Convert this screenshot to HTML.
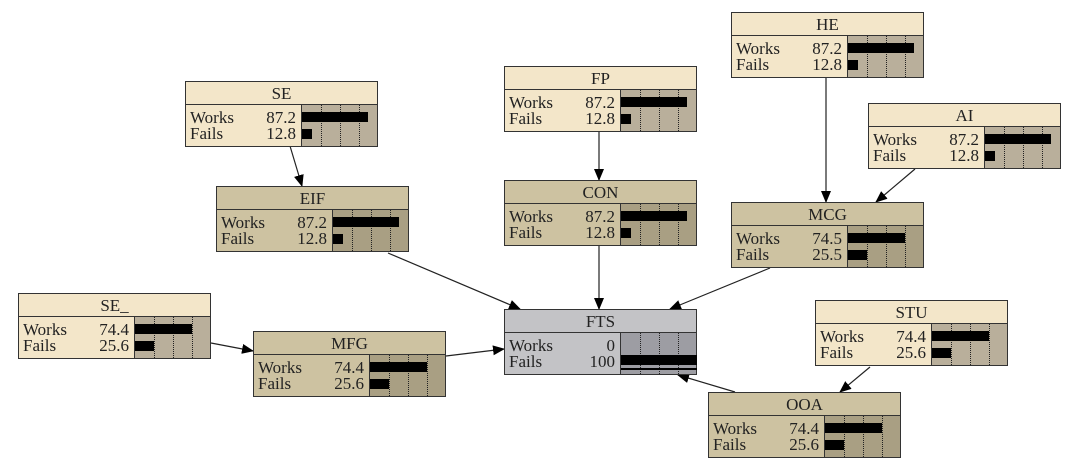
<!DOCTYPE html>
<html><head><meta charset="utf-8"><style>
body{margin:0;width:1088px;height:470px;background:#fff;position:relative;overflow:hidden;font-family:"Liberation Serif",serif;color:#222}
.n{position:absolute;width:191px;height:64px;border:1px solid #333;box-sizing:content-box}
.t{height:22px;line-height:23px;text-align:center;font-size:17px;border-bottom:1px solid #333}
.b{position:relative;height:41px;font-size:17px}
.r{position:absolute;left:4px;width:106px;height:17px;line-height:17px}
.r span{position:absolute;right:0}
.ba{position:absolute;left:115px;top:0;width:76px;height:41px;border-left:1px solid #333;box-sizing:border-box}
.d{position:absolute;top:0;height:41px;border-left:1px dotted #222}
.bar{position:absolute;left:0;height:10px;background:#000}
.be{background:#f3e6c9}.be .ba{background:#b9af9b}
.tn{background:#cdc2a1}.tn .ba{background:#a99f83}
.gr{background:#c3c3c6}.gr .ba{background:#9d9da3}
</style></head><body>
<svg width="1088" height="470" style="position:absolute;left:0;top:0">
<defs><marker id="a" markerWidth="12" markerHeight="10" refX="11" refY="5" orient="auto" markerUnits="userSpaceOnUse"><path d="M0,0 L12,5 L0,10 z" fill="#000"/></marker></defs>
<g stroke="#222" stroke-width="1.2" fill="none" marker-end="url(#a)">
<line x1="290" y1="146" x2="302" y2="186"/>
<line x1="599" y1="131" x2="599" y2="180"/>
<line x1="826" y1="78" x2="826" y2="202"/>
<line x1="915" y1="169" x2="876" y2="202"/>
<line x1="388" y1="253" x2="520" y2="309"/>
<line x1="599" y1="246" x2="599" y2="309"/>
<line x1="770" y1="268" x2="670" y2="309"/>
<line x1="211" y1="343" x2="253" y2="351"/>
<line x1="446" y1="356" x2="504" y2="349"/>
<line x1="870" y1="367" x2="840" y2="392"/>
<line x1="735" y1="392" x2="678" y2="375"/>
</g></svg>

<div class="n be" style="left:731px;top:12px"><div class="t">HE</div><div class="b"><div class="r" style="top:4px">Works<span>87.2</span></div><div class="r" style="top:20px">Fails<span>12.8</span></div><div class="ba"><div class="d" style="left:19px"></div><div class="d" style="left:38px"></div><div class="d" style="left:57px"></div><div class="bar" style="top:7px;width:66px"></div><div class="bar" style="top:24px;width:10px"></div></div></div></div>

<div class="n be" style="left:504px;top:66px"><div class="t">FP</div><div class="b"><div class="r" style="top:4px">Works<span>87.2</span></div><div class="r" style="top:20px">Fails<span>12.8</span></div><div class="ba"><div class="d" style="left:19px"></div><div class="d" style="left:38px"></div><div class="d" style="left:57px"></div><div class="bar" style="top:7px;width:66px"></div><div class="bar" style="top:24px;width:10px"></div></div></div></div>

<div class="n be" style="left:185px;top:81px"><div class="t">SE</div><div class="b"><div class="r" style="top:4px">Works<span>87.2</span></div><div class="r" style="top:20px">Fails<span>12.8</span></div><div class="ba"><div class="d" style="left:19px"></div><div class="d" style="left:38px"></div><div class="d" style="left:57px"></div><div class="bar" style="top:7px;width:66px"></div><div class="bar" style="top:24px;width:10px"></div></div></div></div>

<div class="n be" style="left:868px;top:103px"><div class="t">AI</div><div class="b"><div class="r" style="top:4px">Works<span>87.2</span></div><div class="r" style="top:20px">Fails<span>12.8</span></div><div class="ba"><div class="d" style="left:19px"></div><div class="d" style="left:38px"></div><div class="d" style="left:57px"></div><div class="bar" style="top:7px;width:66px"></div><div class="bar" style="top:24px;width:10px"></div></div></div></div>

<div class="n tn" style="left:216px;top:186px"><div class="t">EIF</div><div class="b"><div class="r" style="top:4px">Works<span>87.2</span></div><div class="r" style="top:20px">Fails<span>12.8</span></div><div class="ba"><div class="d" style="left:19px"></div><div class="d" style="left:38px"></div><div class="d" style="left:57px"></div><div class="bar" style="top:7px;width:66px"></div><div class="bar" style="top:24px;width:10px"></div></div></div></div>

<div class="n tn" style="left:504px;top:180px"><div class="t">CON</div><div class="b"><div class="r" style="top:4px">Works<span>87.2</span></div><div class="r" style="top:20px">Fails<span>12.8</span></div><div class="ba"><div class="d" style="left:19px"></div><div class="d" style="left:38px"></div><div class="d" style="left:57px"></div><div class="bar" style="top:7px;width:66px"></div><div class="bar" style="top:24px;width:10px"></div></div></div></div>

<div class="n tn" style="left:731px;top:202px"><div class="t">MCG</div><div class="b"><div class="r" style="top:4px">Works<span>74.5</span></div><div class="r" style="top:20px">Fails<span>25.5</span></div><div class="ba"><div class="d" style="left:19px"></div><div class="d" style="left:38px"></div><div class="d" style="left:57px"></div><div class="bar" style="top:7px;width:57px"></div><div class="bar" style="top:24px;width:19px"></div></div></div></div>

<div class="n be" style="left:18px;top:293px"><div class="t">SE_</div><div class="b"><div class="r" style="top:4px">Works<span>74.4</span></div><div class="r" style="top:20px">Fails<span>25.6</span></div><div class="ba"><div class="d" style="left:19px"></div><div class="d" style="left:38px"></div><div class="d" style="left:57px"></div><div class="bar" style="top:7px;width:57px"></div><div class="bar" style="top:24px;width:19px"></div></div></div></div>

<div class="n gr" style="left:504px;top:309px"><div class="t">FTS</div><div class="b"><div class="r" style="top:4px">Works<span>0</span></div><div class="r" style="top:20px">Fails<span>100</span></div><div class="ba"><div class="d" style="left:19px"></div><div class="d" style="left:38px"></div><div class="d" style="left:57px"></div><div class="bar" style="top:22px;width:76px;height:10px"></div><div class="bar" style="top:35px;width:76px;height:2px"></div></div></div></div>

<div class="n tn" style="left:253px;top:331px"><div class="t">MFG</div><div class="b"><div class="r" style="top:4px">Works<span>74.4</span></div><div class="r" style="top:20px">Fails<span>25.6</span></div><div class="ba"><div class="d" style="left:19px"></div><div class="d" style="left:38px"></div><div class="d" style="left:57px"></div><div class="bar" style="top:7px;width:57px"></div><div class="bar" style="top:24px;width:19px"></div></div></div></div>

<div class="n be" style="left:815px;top:300px"><div class="t">STU</div><div class="b"><div class="r" style="top:4px">Works<span>74.4</span></div><div class="r" style="top:20px">Fails<span>25.6</span></div><div class="ba"><div class="d" style="left:19px"></div><div class="d" style="left:38px"></div><div class="d" style="left:57px"></div><div class="bar" style="top:7px;width:57px"></div><div class="bar" style="top:24px;width:19px"></div></div></div></div>

<div class="n tn" style="left:708px;top:392px"><div class="t">OOA</div><div class="b"><div class="r" style="top:4px">Works<span>74.4</span></div><div class="r" style="top:20px">Fails<span>25.6</span></div><div class="ba"><div class="d" style="left:19px"></div><div class="d" style="left:38px"></div><div class="d" style="left:57px"></div><div class="bar" style="top:7px;width:57px"></div><div class="bar" style="top:24px;width:19px"></div></div></div></div>
</body></html>
